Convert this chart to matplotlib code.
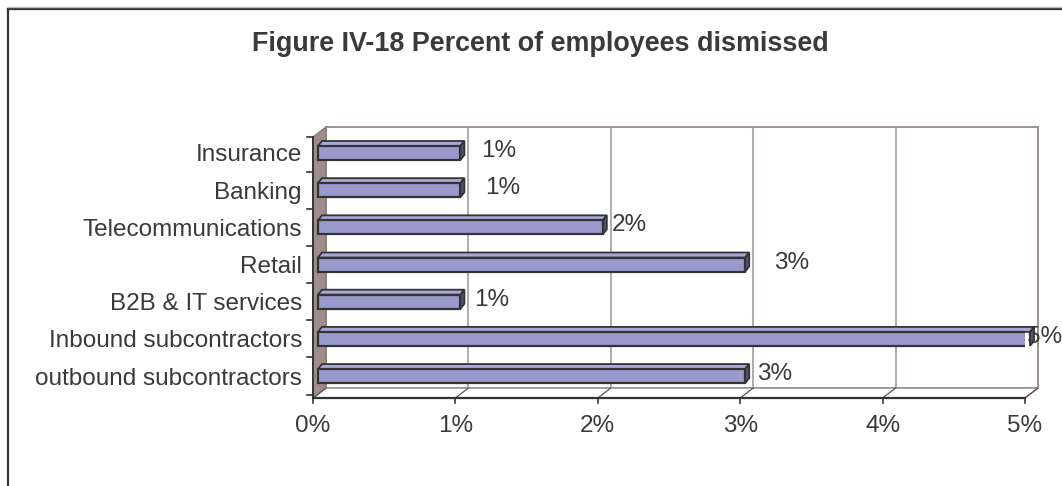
import matplotlib.pyplot as plt
from matplotlib.patches import Polygon, Rectangle
from matplotlib.lines import Line2D

plt.rcParams['font.family'] = ['Liberation Sans', 'DejaVu Sans']

categories = ['outbound subcontractors', 'Inbound subcontractors', 'B2B & IT services',
              'Retail', 'Telecommunications', 'Banking', 'Insurance']
values = [3, 5, 1, 3, 2, 1, 1]
labels = ['3%', '5%', '1%', '3%', '2%', '1%', '1%']
xticks = [0, 1, 2, 3, 4, 5]
xticklabels = ['0%', '1%', '2%', '3%', '4%', '5%']

# label offsets in pixels (Excel placed them a bit unevenly)
label_dx = [12, -3, 14, 29, 9, 25, 21]

W, H = 1062, 486
fig = plt.figure(figsize=(W / 100, H / 100), dpi=100)
txt = '#3a3a3a'

# outer chart frame (only left and top visible)
fig.add_artist(Line2D([8 / W, 8 / W], [0, 1 - 9 / H], transform=fig.transFigure, color='#333333', lw=1.6))
fig.add_artist(Line2D([8 / W, 1], [1 - 9 / H, 1 - 9 / H], transform=fig.transFigure, color='#333333', lw=1.6))
fig.add_artist(Line2D([8 / W, 1], [1 - 7 / H, 1 - 7 / H], transform=fig.transFigure, color='#bbbbbb', lw=1))

fig.text(540 / W, 1 - 44 / H, 'Figure IV-18 Percent of employees dismissed', ha='center', va='center',
         fontsize=19.4, fontweight='bold', color=txt)

x0, x1 = 313, 1025
ybot, ytop = 398, 137
ax = fig.add_axes([x0 / W, (H - ybot) / H, (x1 - x0) / W, (ybot - ytop) / H])
ylo, yhi = -0.59, 6.43
ax.set_xlim(0, 5)
ax.set_ylim(ylo, yhi)
for s in ax.spines.values():
    s.set_visible(False)
ax.patch.set_visible(False)

# pixel -> data unit conversion
ux = 5 / (x1 - x0)
uy = (yhi - ylo) / (ybot - ytop)
dx, dy = 13 * ux, 10 * uy  # depth of the 3d box

wall = '#a0938f'
# back wall
ax.add_patch(Rectangle((dx, ylo + dy), 5, yhi - ylo, facecolor='white', edgecolor=wall, lw=1.4, clip_on=False, zorder=1))
for xv in xticks[1:-1]:
    ax.plot([xv + dx, xv + dx], [ylo + dy, yhi + dy], color=wall, lw=1.1, clip_on=False, zorder=1.5)
# side wall
ax.add_patch(Polygon([(0, ylo), (0, yhi), (dx, yhi + dy), (dx, ylo + dy)], closed=True,
                     facecolor='#9e8e8a', edgecolor='#8a7a76', lw=1, clip_on=False, zorder=2))
# floor
ax.add_patch(Polygon([(0, ylo), (5, ylo), (5 + dx, ylo + dy), (dx, ylo + dy)], closed=True,
                     facecolor='white', edgecolor=wall, lw=1.2, clip_on=False, zorder=2))
for xv in xticks:
    ax.plot([xv, xv + dx], [ylo, ylo + dy], color='#555555', lw=0.9, clip_on=False, zorder=2.5)

# front axis lines with ticks
ax.plot([0, 5], [ylo, ylo], color='#333333', lw=1.6, clip_on=False, zorder=3)
ax.plot([0, 0], [ylo, yhi], color='#333333', lw=1.4, clip_on=False, zorder=3)
for xv in xticks:
    ax.plot([xv, xv], [ylo, ylo - 5 * uy], color='#333333', lw=1.2, clip_on=False, zorder=3)
for k in range(len(categories) + 1):
    yb = k - 0.5 if k < len(categories) else yhi
    yb = max(yb, ylo)
    ax.plot([0, -6 * ux], [yb, yb], color='#333333', lw=1.2, clip_on=False, zorder=3)

# bars
bh = 14 * uy
shift = 5 * ux
bdx, bdy = 4 * ux, 5 * uy
ypos = list(range(len(categories)))
ax.barh(ypos, values, height=bh, left=shift, color='#9999cc', edgecolor='#333333', lw=1.6, zorder=5)
for y, v in zip(ypos, values):
    xe = shift + v
    top = [(shift, y + bh / 2), (xe, y + bh / 2), (xe + bdx, y + bh / 2 + bdy), (shift + bdx, y + bh / 2 + bdy)]
    ax.add_patch(Polygon(top, closed=True, facecolor='#a8a8d8', edgecolor='#333333', lw=1.3, zorder=4.5, clip_on=False))
    side = [(xe, y - bh / 2), (xe, y + bh / 2), (xe + bdx, y + bh / 2 + bdy), (xe + bdx, y - bh / 2 + bdy)]
    ax.add_patch(Polygon(side, closed=True, facecolor='#55557a', edgecolor='#333333', lw=1.3, zorder=4.5, clip_on=False))

for y, v, lab, ldx in zip(ypos, values, labels, label_dx):
    ax.annotate(lab, xy=(shift + v, y), xytext=(ldx * 0.72, 2 * 0.72), textcoords='offset points',
                ha='left', va='center', fontsize=17.5, color=txt, zorder=4, annotation_clip=False)

ax.set_xticks(xticks)
ax.set_xticklabels(xticklabels)
ax.set_yticks(ypos)
ax.set_yticklabels(categories)
ax.tick_params(axis='x', length=0, pad=12, labelsize=17.5, labelcolor=txt)
ax.tick_params(axis='y', length=0, pad=8, labelsize=17.5, labelcolor=txt)

fig.savefig('out.png', dpi=100)
